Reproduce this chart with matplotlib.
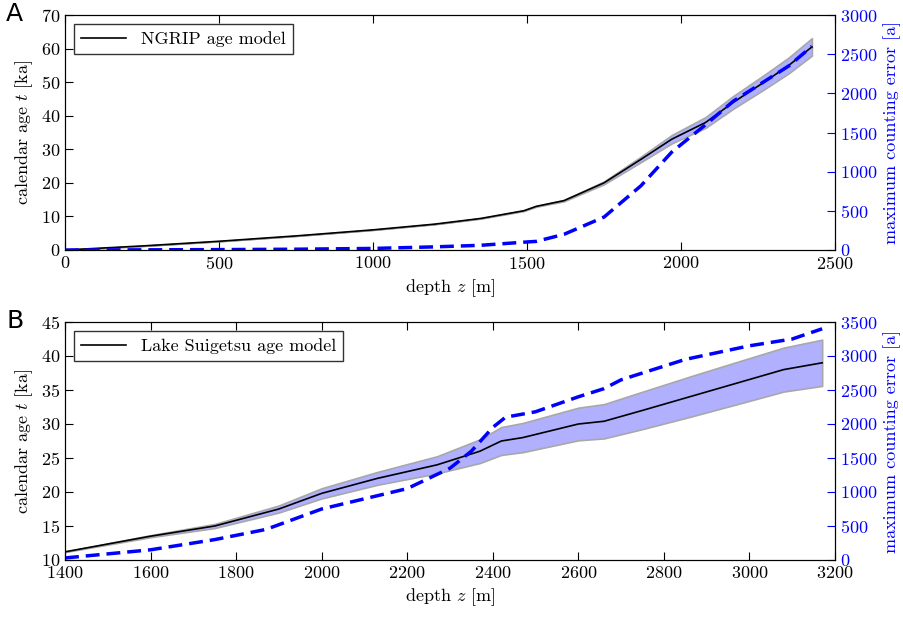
import matplotlib
matplotlib.use("Agg")
import matplotlib.pyplot as plt
from matplotlib.ticker import MultipleLocator
import numpy as np

plt.rcParams['font.family'] = 'cmr10'
plt.rcParams['mathtext.fontset'] = 'cm'
plt.rcParams['axes.formatter.use_mathtext'] = True
plt.rcParams['font.size'] = 13

a_depth = [0, 250, 500, 750, 1000, 1200, 1350, 1490, 1530, 1620, 1750, 1870, 1970, 2080, 2170, 2270, 2350, 2425]
a_age = [0, 1.2, 2.6, 4.2, 6.0, 7.7, 9.4, 11.7, 13.0, 14.7, 20.0, 27.0, 33.0, 38.0, 44.0, 50.0, 55.0, 60.5]
a_err = [0, 2, 5, 10, 20, 40, 60, 100, 110, 200, 420, 820, 1250, 1600, 1900, 2150, 2350, 2600]

b_depth = [1400, 1600, 1750, 1900, 2000, 2130, 2270, 2370, 2420, 2470, 2600, 2660, 2750, 2860, 2970, 3080, 3170]
b_age = [11.2, 13.5, 15.0, 17.5, 19.8, 22.0, 24.0, 26.0, 27.5, 28.0, 30.0, 30.4, 32.0, 34.0, 36.0, 38.0, 39.0]
b_err_depth = [1400, 1600, 1750, 1870, 2000, 2200, 2300, 2350, 2400, 2430, 2500, 2600, 2660, 2700, 2850, 3000, 3100, 3170]
b_err = [30, 150, 300, 450, 750, 1050, 1350, 1600, 1950, 2100, 2180, 2400, 2520, 2650, 2950, 3150, 3250, 3400]

fig = plt.figure(figsize=(9.04, 6.18), dpi=100)
W, H = 904, 618
def add(l, t, r, b):
    return fig.add_axes([l / W, 1 - b / H, (r - l) / W, (b - t) / H])

def panel(ax, depth, age, errd, err, xlim, ylim, ystep, e_max, label, letter):
    depth = np.array(depth); age = np.array(age)
    band = np.interp(depth, errd, err) / 1000.0
    ax.fill_between(depth, age - band, age + band, facecolor='#b0b0ff', edgecolor='#a8a8a8', lw=1.2)
    ax.plot(depth, age, 'k-', lw=1.2, label=label)
    ax.set_xlim(*xlim); ax.set_ylim(*ylim)
    ax.yaxis.set_major_locator(MultipleLocator(ystep))
    ax.set_xlabel('depth $z$ [m]')
    ax.set_ylabel('calendar age $t$ [ka]')
    ax.legend(loc='upper left', fontsize=13, fancybox=False, edgecolor='k', handlelength=2.5)
    ax.tick_params(direction='in', top=True, length=6)
    ax2 = ax.twinx()
    ax2.plot(errd, err, '--', color='blue', lw=2.5, dashes=(4, 2))
    ax2.set_ylim(0, e_max)
    ax2.yaxis.set_major_locator(MultipleLocator(500))
    ax2.set_ylabel('maximum counting error [a]', color='blue')
    ax2.tick_params(direction='in', colors='blue', length=6)
    ax2.spines['right'].set_color('k')
    fig.text(ax.get_position().x0 - 0.065, ax.get_position().y1 - 0.01, letter,
             family='DejaVu Sans', fontsize=18)

ax1 = add(65, 15, 835, 250)
panel(ax1, a_depth, a_age, a_depth, a_err, (0, 2500), (0, 70), 10, 3000, 'NGRIP age model', 'A')
ax2 = add(65, 322, 835, 560)
panel(ax2, b_depth, b_age, b_err_depth, b_err, (1400, 3200), (10, 45), 5, 3500, 'Lake Suigetsu age model', 'B')

fig.savefig('out.png', dpi=100)
